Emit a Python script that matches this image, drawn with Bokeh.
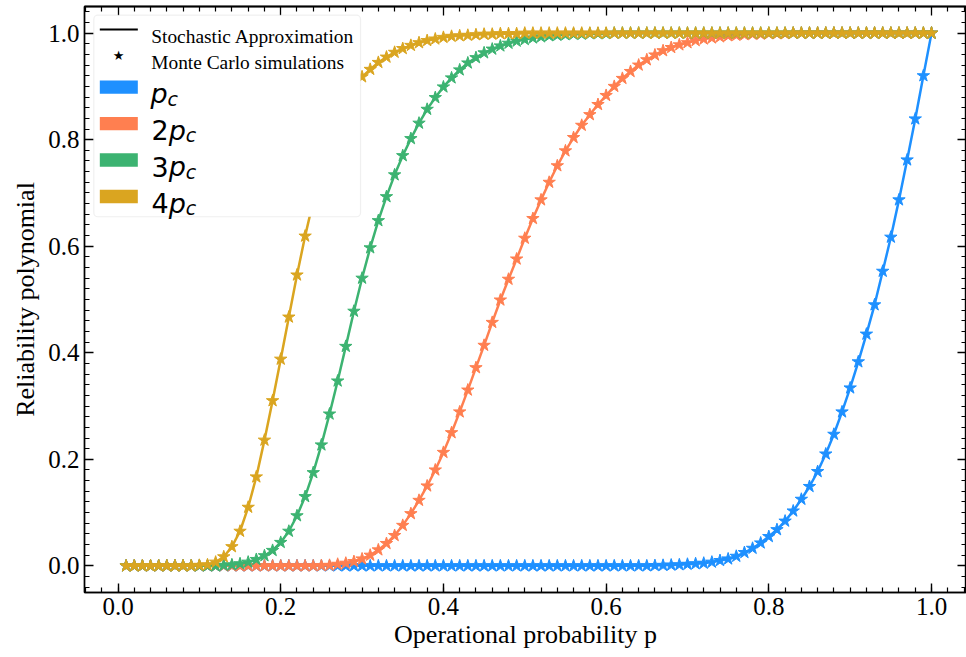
from bokeh.plotting import figure
from bokeh.models import Range1d, LinearAxis, FixedTicker, PrintfTickFormatter, BoxAnnotation, Label, ColumnDataSource
from bokeh.embed import file_html
from bokeh.resources import INLINE

# ---------------- data ----------------
p_grid = [round(0.01 * k, 2) for k in range(1, 101)]

rel_pc = [0, 0, 0, 0, 0, 0, 0, 0, 0, 0,
          0, 0, 0, 0, 0, 0, 0, 0, 0, 0,
          0, 0, 0, 0, 0, 0, 0, 0, 0, 0,
          0, 0, 0, 0, 0, 0, 0, 0, 0, 0,
          0, 0, 0, 0, 0, 0, 0, 0, 0, 0,
          0, 0, 0, 0, 0, 0, 0, 0, 0, 0,
          0, 0, 0, 0, 0, 0.0005, 0.001, 0.0015, 0.002, 0.003,
          0.004, 0.005, 0.007, 0.010, 0.013, 0.018, 0.025, 0.033, 0.043, 0.055,
          0.068, 0.084, 0.103, 0.125, 0.149, 0.177, 0.210, 0.247, 0.289, 0.334,
          0.383, 0.435, 0.490, 0.553, 0.617, 0.687, 0.762, 0.839, 0.920, 1.000]

rel_2pc = [0, 0, 0, 0, 0, 0, 0, 0, 0, 0,
           0, 0, 0, 0, 0, 0, 0, 0, 0, 0,
           0, 0, 0, 0, 0.0005, 0.001, 0.003, 0.005, 0.008, 0.013,
           0.020, 0.030, 0.042, 0.057, 0.076, 0.098, 0.123, 0.150, 0.180, 0.213,
           0.250, 0.289, 0.330, 0.372, 0.414, 0.457, 0.499, 0.538, 0.576, 0.615,
           0.652, 0.687, 0.720, 0.751, 0.779, 0.804, 0.827, 0.847, 0.866, 0.883,
           0.900, 0.915, 0.928, 0.940, 0.950, 0.959, 0.967, 0.973, 0.978, 0.982,
           0.986, 0.989, 0.991, 0.993, 0.995, 0.996, 0.997, 0.998, 0.998, 0.999,
           0.999, 0.999, 1, 1, 1, 1, 1, 1, 1, 1,
           1, 1, 1, 1, 1, 1, 1, 1, 1, 1]

rel_3pc = [0, 0, 0, 0, 0, 0, 0, 0, 0, 0,
           0, 0, 0.001, 0.002, 0.004, 0.007, 0.012, 0.019, 0.029, 0.044,
           0.065, 0.094, 0.130, 0.175, 0.227, 0.285, 0.347, 0.412, 0.478, 0.540,
           0.597, 0.648, 0.693, 0.734, 0.770, 0.802, 0.831, 0.857, 0.879, 0.899,
           0.916, 0.931, 0.944, 0.954, 0.963, 0.970, 0.976, 0.981, 0.985, 0.988,
           0.991, 0.993, 0.995, 0.996, 0.997, 0.998, 0.998, 0.999, 0.999, 0.999,
           1, 1, 1, 1, 1, 1, 1, 1, 1, 1,
           1, 1, 1, 1, 1, 1, 1, 1, 1, 1,
           1, 1, 1, 1, 1, 1, 1, 1, 1, 1,
           1, 1, 1, 1, 1, 1, 1, 1, 1, 1]

rel_4pc = [0, 0, 0, 0, 0, 0, 0, 0, 0, 0.001,
           0.002, 0.007, 0.017, 0.036, 0.065, 0.110, 0.167, 0.236, 0.310, 0.388,
           0.467, 0.546, 0.619, 0.685, 0.745, 0.795, 0.838, 0.872, 0.898, 0.918,
           0.932, 0.945, 0.955, 0.964, 0.971, 0.977, 0.982, 0.986, 0.989, 0.992,
           0.994, 0.995, 0.996, 0.997, 0.998, 0.998, 0.999, 0.999, 0.999, 1,
           1, 1, 1, 1, 1, 1, 1, 1, 1, 1,
           1, 1, 1, 1, 1, 1, 1, 1, 1, 1,
           1, 1, 1, 1, 1, 1, 1, 1, 1, 1,
           1, 1, 1, 1, 1, 1, 1, 1, 1, 1,
           1, 1, 1, 1, 1, 1, 1, 1, 1, 1]

series_values = [rel_pc, rel_2pc, rel_3pc, rel_4pc]
series_prefix = ["", "2", "3", "4"]
series_colors = ["#1E90FF", "#FF7F50", "#3CB371", "#DAA520"]

major_ticks = [0.0, 0.2, 0.4, 0.6, 0.8, 1.0]
minor_ticks = [round(-0.04 + 0.02 * k, 2) for k in range(0, 56)]
minor_only = [t for t in minor_ticks if all(abs(t - m) > 1e-9 for m in major_ticks)]

x_label = "Operational probability p"
y_label = "Reliability polynomial"
legend_line_text = "Stochastic Approximation"
legend_star_text = "Monte Carlo simulations"

SERIF = "Liberation Serif"
SERIF_QUOTED = "'Liberation Serif', 'Times New Roman', serif"
SANS = "DejaVu Sans"

# ---------------- figure ----------------
p = figure(width=966, height=657, output_backend="svg", toolbar_location=None,
           x_range=Range1d(-0.0412, 1.0430), y_range=Range1d(-0.05, 1.05),
           min_border_left=84, min_border_right=0, min_border_top=6, min_border_bottom=65)
p.xgrid.visible = False
p.ygrid.visible = False
p.outline_line_color = "black"
p.outline_line_width = 1.4
p.background_fill_color = "white"
p.border_fill_color = "white"


def style_main_axis(ax, label, label_standoff):
    ax.ticker = FixedTicker(ticks=major_ticks, minor_ticks=minor_ticks)
    ax.formatter = PrintfTickFormatter(format="%.1f")
    ax.major_tick_in = 9
    ax.major_tick_out = 0
    ax.minor_tick_in = 5
    ax.minor_tick_out = 0
    ax.major_tick_line_width = 1.4
    ax.minor_tick_line_width = 1.2
    ax.axis_line_width = 1.4
    ax.major_tick_line_color = "black"
    ax.minor_tick_line_color = "black"
    ax.axis_line_color = "black"
    ax.major_label_text_font = SERIF_QUOTED
    ax.major_label_text_font_size = "25px"
    ax.major_label_text_font_style = "normal"
    ax.major_label_text_color = "black"
    ax.major_label_standoff = 5
    ax.axis_label = label
    ax.axis_label_text_font = SERIF
    ax.axis_label_text_font_size = "26px"
    ax.axis_label_text_font_style = "normal"
    ax.axis_label_text_color = "black"
    ax.axis_label_standoff = label_standoff


def tick_only_axis(ticks, length):
    # an axis with no labelled ticks: only (minor) tick marks pointing inward
    return LinearAxis(ticker=FixedTicker(ticks=[], minor_ticks=ticks),
                      major_tick_in=0, major_tick_out=0,
                      minor_tick_in=length, minor_tick_out=0,
                      minor_tick_line_width=1.3 if length > 6 else 1.2,
                      minor_tick_line_color="black",
                      axis_line_width=1.4, axis_line_color="black")


style_main_axis(p.xaxis[0], x_label, 2)
style_main_axis(p.yaxis[0], y_label, 5)

p.add_layout(tick_only_axis(minor_only, 5), "above")
p.add_layout(tick_only_axis(major_ticks, 9), "above")
p.add_layout(tick_only_axis(minor_only, 5), "right")
p.add_layout(tick_only_axis(major_ticks, 9), "right")

# ---------------- series ----------------
for vals, col in zip(series_values, series_colors):
    src = ColumnDataSource(dict(x=p_grid, y=vals))
    p.line("x", "y", source=src, line_color=col, line_width=2.5)
    p.scatter("x", "y", source=src, marker="star", size=13, fill_color=col, line_color=col)


# ---------------- legend (drawn as annotations) ----------------
def dx(px):
    return (px - 117.5) / 813.5


def dy(py):
    return (566 - py) / 533


p.add_layout(BoxAnnotation(left=dx(93.3), right=dx(360), top=dy(15), bottom=dy(216.7),
                           fill_color="white", fill_alpha=1.0, line_color="#cccccc",
                           line_width=1.2, border_radius=4))
p.add_layout(BoxAnnotation(left=dx(99.3), right=dx(137.3), top=dy(28.4), bottom=dy(30.3),
                           fill_color="black", fill_alpha=1, line_color=None))
p.add_layout(Label(x=dx(118), y=dy(55.5), text="\u2605", text_font=SANS, text_font_size="13px",
                   text_align="center", text_baseline="middle", text_color="black"))
p.add_layout(Label(x=dx(150.7), y=dy(36), text=legend_line_text, text_font=SERIF,
                   text_font_size="19.4px", text_baseline="alphabetic", text_color="black"))
p.add_layout(Label(x=dx(150.7), y=dy(62.3), text=legend_star_text, text_font=SERIF,
                   text_font_size="19.4px", text_baseline="alphabetic", text_color="black"))

row_centers = [87, 123.5, 160, 196.5]
for prefix, col, cy in zip(series_prefix, series_colors, row_centers):
    p.add_layout(BoxAnnotation(left=dx(99.3), right=dx(137.3), top=dy(cy - 6.7), bottom=dy(cy + 6.7),
                               fill_color=col, fill_alpha=1, line_color=None))
    base = cy + 6.7
    xpos = 151
    if prefix:
        p.add_layout(Label(x=dx(xpos), y=dy(base), text=prefix, text_font=SANS, text_font_size="27px",
                           text_baseline="alphabetic", text_color="black"))
        xpos += 17.2
    else:
        xpos -= 1
    p.add_layout(Label(x=dx(xpos), y=dy(base), text="p", text_font=SANS, text_font_size="27px",
                       text_font_style="italic", text_baseline="alphabetic", text_color="black"))
    p.add_layout(Label(x=dx(xpos + 17), y=dy(base + 5), text="c", text_font=SANS, text_font_size="19px",
                       text_font_style="italic", text_baseline="alphabetic", text_color="black"))

open("out.html", "w").write(file_html(p, INLINE))
